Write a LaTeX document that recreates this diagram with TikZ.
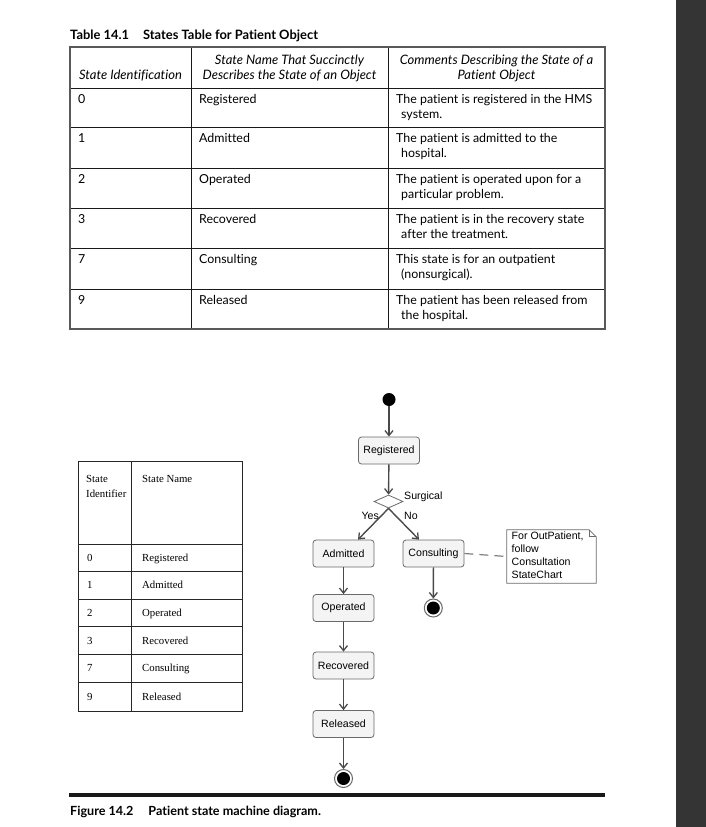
\documentclass[tikz,border=0pt]{standalone}
\usepackage{fontspec}
\setmainfont{Lato}[Ligatures=NoCommon]
\newfontfamily\diagfont{Liberation Sans}
\newfontfamily\seriffont{Liberation Serif}
\usetikzlibrary{arrows.meta,shapes.geometric,calc}
\definecolor{boxfill}{HTML}{F4F4F4}
\definecolor{boxline}{HTML}{6A6A6A}
\definecolor{arrowc}{HTML}{4A4A4A}
\definecolor{barc}{HTML}{343434}
\begin{document}
\begin{tikzpicture}[x=1pt,y=-1pt,
  tcell/.style={anchor=base west,inner sep=0pt,font=\fontsize{12.4}{15}\selectfont},
  thead/.style={anchor=base,inner sep=0pt,font=\fontsize{13}{15}\selectfont\itshape},
  outerline/.style={draw=black!65,line width=1.8pt},
  innerline/.style={draw=black!90,line width=0.9pt},
  state/.style={draw=boxline,fill=boxfill,rounded corners=3pt,minimum width=61pt,minimum height=27pt,inner sep=0pt,font=\diagfont\fontsize{10.6}{12}\selectfont,line width=0.8pt},
  trans/.style={draw=arrowc,line width=1.4pt,-{Straight Barb[length=5pt,width=8pt,line width=1.3pt]}},
  lbl/.style={inner sep=0pt,font=\diagfont\fontsize{10.6}{12}\selectfont},
  finalring/.style={circle,draw=boxline,line width=1pt,fill=white,minimum size=18pt,inner sep=0pt},
  stcell/.style={anchor=base west,inner sep=0pt,font=\seriffont\fontsize{10.8}{15}\selectfont},
  smallline/.style={draw=black!85,line width=0.8pt},
]
\useasboundingbox (0,0) rectangle (706,827);
\fill[white] (0,0) rectangle (706,827);
\fill[barc] (676,0) rectangle (706,827);

% ---------- Table 14.1 ----------
\node[anchor=base west,inner sep=0pt,font=\fontsize{12.9}{14}\selectfont\bfseries] (title) at (70,39) {Table 14.1\hspace{14pt}States Table for Patient Object};

\foreach \yy in {88,127,168,208,248,289} \draw[innerline] (70,\yy) -- (605,\yy);
\draw[innerline] (191.5,47) -- (191.5,329);
\draw[innerline] (388,47) -- (388,329);
\draw[outerline] (70,47) rectangle (605,329);

\node[thead] (h1) at (130.5,79) {State Identification};
\node[thead] (h2a) at (289.5,64) {State Name That Succinctly};
\node[thead] (h2b) at (289.5,79) {Describes the State of an Object};
\node[thead] (h3a) at (496.5,64) {Comments Describing the State of a};
\node[thead] (h3b) at (496.5,79) {Patient Object};

\foreach \top/\id/\nm/\la/\lb [count=\k] in {
  88/0/Registered/The patient is registered in the HMS/system.,
  127/1/Admitted/The patient is admitted to the/hospital.,
  168/2/Operated/The patient is operated upon for a/particular problem.,
  208/3/Recovered/The patient is in the recovery state/after the treatment.,
  248/7/Consulting/This state is for an outpatient/(nonsurgical).,
  289/9/Released/The patient has been released from/the hospital.}{
  \node[tcell] (tid\k) at (78,\top+15) {\id};
  \node[tcell] (tnm\k) at (199,\top+15) {\nm};
  \node[tcell] (tca\k) at (396,\top+15) {\la};
  \node[tcell] (tcb\k) at (401,\top+30.5) {\lb};
}

% ---------- small table ----------
\foreach \yy in {544.3,571.7,599,626.7,654.3,682.3} \draw[smallline] (78,\yy) -- (242,\yy);
\draw[smallline] (131,461) -- (131,711);
\draw[smallline] (78,461) rectangle (242,711);
\node[stcell] (sh1) at (86,482) {State};
\node[stcell] (sh2) at (86,497) {Identifier};
\node[stcell] (sh3) at (142,482) {State Name};
\foreach \mid/\id/\nm [count=\k] in {558/0/Registered,585.4/1/Admitted,612.9/2/Operated,640.5/3/Recovered,668.3/7/Consulting,696.5/9/Released}{
  \node[stcell] (sid\k) at (87,\mid+3.5) {\id};
  \node[stcell] (snm\k) at (142,\mid+3.5) {\nm};
}

% ---------- state machine ----------
\node[circle,fill=black,inner sep=0pt,minimum size=13pt] (init) at (389,399.5) {};
\node[state] (reg) at (389,450.5) {Registered};
\node[diamond,draw=boxline,fill=white,line width=0.8pt,minimum width=29pt,minimum height=13pt,inner sep=0pt] (dec) at (388.5,501.5) {};
\node[state] (adm) at (343.5,553.5) {Admitted};
\node[state] (con) at (433.5,553.5) {Consulting};
\node[state] (ope) at (343.5,608) {Operated};
\node[state] (rec) at (343.5,665.5) {Recovered};
\node[state] (rel) at (343.5,724) {Released};
\node[finalring] (fin1) at (343.5,778.5) {};
\fill[black] (fin1.center) circle (6.5pt);
\node[finalring] (fin2) at (433.3,608) {};
\fill[black] (fin2.center) circle (6.5pt);

\node[lbl,anchor=west] (surg) at (404,497) {Surgical};
\node[lbl,anchor=east] (yes) at (379,516) {Yes};
\node[lbl,anchor=west] (no) at (404,516) {No};

% note
\node[inner sep=0pt,minimum width=89pt,minimum height=53pt] (note) at (551.5,556.5) {};
\draw[boxline,fill=white,line width=0.8pt] (note.north west) -- ($(note.north east)+(-7,0)$) -- ($(note.north east)+(0,7)$) -- (note.south east) -- (note.south west) -- cycle;
\draw[boxline,line width=0.8pt] ($(note.north east)+(-7,0)$) -- ($(note.north east)+(-7,7)$) -- ($(note.north east)+(0,7)$);
\node[lbl,anchor=north west,align=left,font=\diagfont\fontsize{10.6}{13}\selectfont] (notetext) at (511.5,532) {For OutPatient,\\follow\\Consultation\\StateChart};
\draw[draw=black!50,line width=1.2pt,dash pattern=on 9pt off 6pt] (con.east) -- (note.west);

\draw[trans] (init) -- (reg);
\draw[trans] (reg) -- (dec);
\draw[trans] (dec.south) -- ([xshift=14.5pt]adm.north);
\draw[trans] (dec.south) -- ([xshift=-14.5pt]con.north);
\draw[trans] (adm) -- (ope);
\draw[trans] (ope) -- (rec);
\draw[trans] (rec) -- (rel);
\draw[trans] (rel) -- (fin1);
\draw[trans] (con) -- (fin2);

% ---------- rule and caption ----------
\draw[line width=3.5pt,black!90] (69,795) -- (605,795);
\node[anchor=base west,inner sep=0pt,font=\fontsize{12.6}{14}\selectfont\bfseries] (caption) at (70,815) {Figure 14.2\hspace{15pt}Patient state machine diagram.};
\end{tikzpicture}
\end{document}
